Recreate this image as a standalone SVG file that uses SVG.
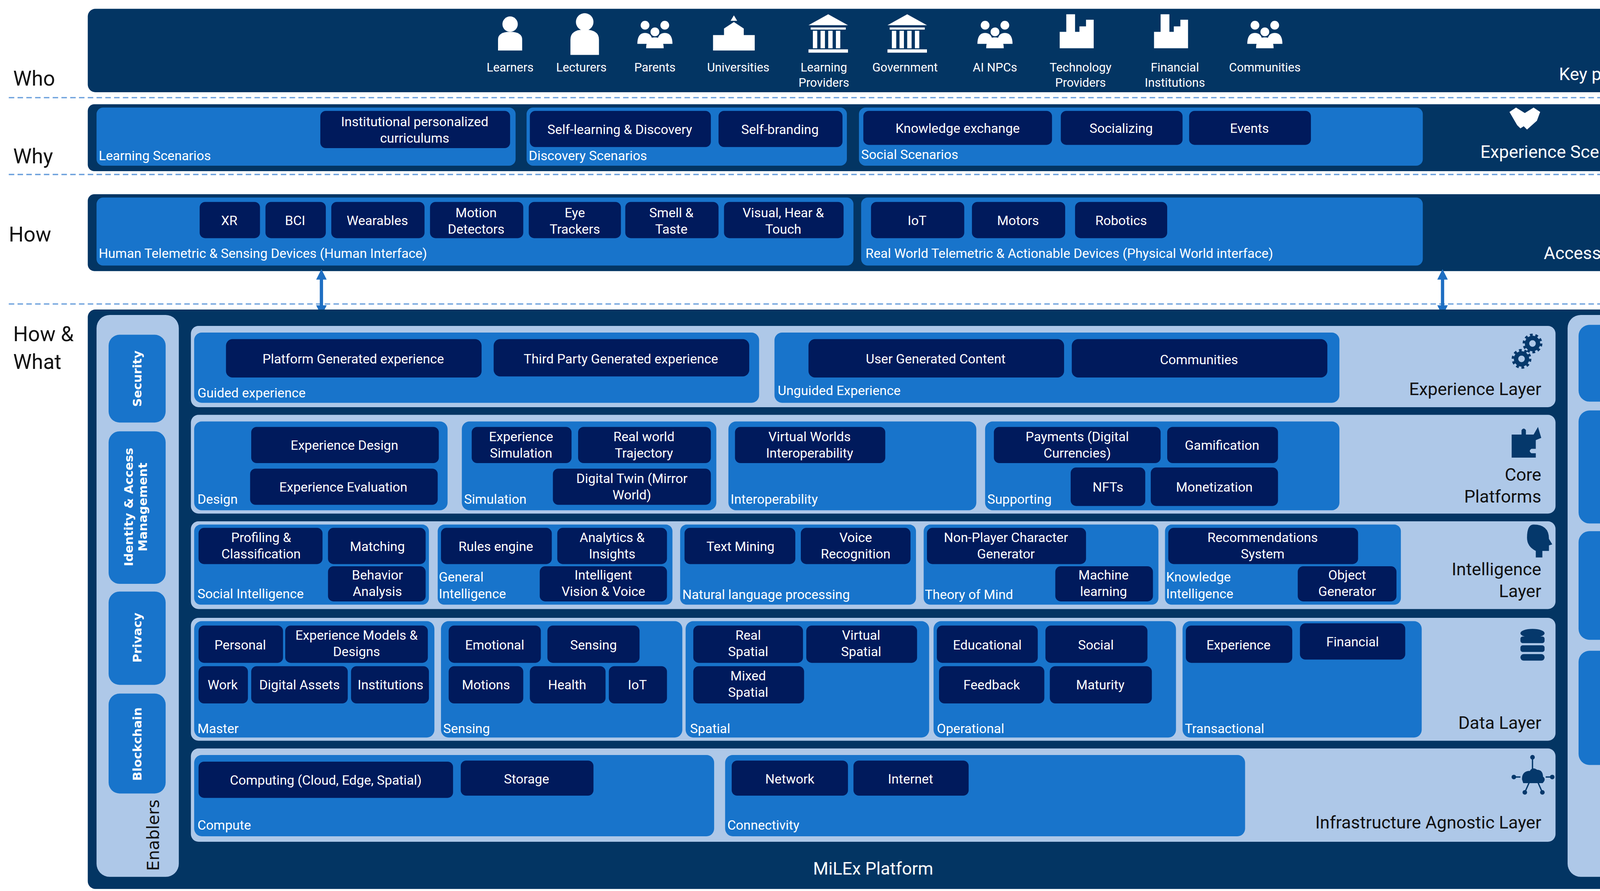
<svg xmlns="http://www.w3.org/2000/svg" width="4381" height="2280" viewBox="0 0 4381 2280">
<defs>
<style>
.band{fill:#033563}
.lay{fill:#aec8e8}
.pan{fill:#1874cb}
.box{fill:#001a5c}
.pill{fill:#1874cb}
text{font-family:Roboto,"Liberation Sans",Arial,sans-serif}
.t{fill:#fff;font-size:12px;text-anchor:middle}
.lab{fill:#fff;font-size:12px}
.dk{fill:#111;font-size:16px;text-anchor:end}
.wr{fill:#fff;font-size:16px;text-anchor:end}
.side{fill:#111;font-size:19px}
.ic{fill:#fff;font-size:11px;text-anchor:middle}
.rot{fill:#fff;font-family:"DejaVu Sans",Verdana,sans-serif;font-weight:bold;font-size:11px;text-anchor:middle}
.rotd{fill:#111;font-family:"DejaVu Sans",Verdana,sans-serif;font-size:15px;text-anchor:middle}
.dash{stroke:#6a9fdc;stroke-width:1.2;stroke-dasharray:5 3}
.gear{fill:none;stroke:#05386b}
</style>
<marker id="ah" viewBox="0 0 10 10" refX="5" refY="5" markerWidth="3.2" markerHeight="3.2" orient="auto-start-reverse"><path d="M0,0 L10,5 L0,10 z" fill="#1f6fc2"/></marker>
</defs>
<rect width="4381" height="2280" fill="#fff"/>
<g transform="scale(2.8083)">
<g id="sidelabels">
<text class="side" x="12" y="78">Who</text>
<text class="side" x="12" y="149">Why</text>
<text class="side" x="8" y="220">How</text>
<text class="side" x="12" y="311">How &amp;</text>
<text class="side" x="12" y="336">What</text>
</g>
<g id="dashes">
<line class="dash" x1="8" y1="89" x2="1556" y2="89"/>
<line class="dash" x1="8" y1="159" x2="1556" y2="159"/>
<line class="dash" x1="8" y1="277" x2="1556" y2="277"/>
</g>

<g id="who">
<rect class="band" x="80" y="8" width="1434" height="76" rx="7"/>
<g fill="#fff">
<circle cx="465" cy="22" r="7"/><path d="M454,46 v-10 q0,-7 11,-7 q11,0 11,7 v10z"/>
<circle cx="533" cy="20" r="8"/><path d="M520,50 v-14 q0,-9 13,-9 q13,0 13,9 v14z"/>
<circle cx="588" cy="23" r="4"/><circle cx="606" cy="23" r="4"/><circle cx="597" cy="29" r="4"/><path d="M581,40 q0,-10 7,-10 q7,0 7,10z M599,40 q0,-10 7,-10 q7,0 7,10z M589,44 q0,-10 8,-10 q8,0 8,10z"/>
<path d="M650,46 v-14 h10 v-6 l9,-6 l9,6 v6 h10 v14z"/><path d="M669,14 l-3,5 h6z"/>
<path d="M737,23 l18,-10 l18,10z M739,25 h32 v2 h-32z M741,28 h4 v16 h-4z M748,28 h4 v16 h-4z M755,28 h4 v16 h-4z M762,28 h4 v16 h-4z M737,45 h36 v3 h-36z"/>
<path d="M809,23 l18,-10 l18,10z M811,25 h32 v2 h-32z M813,28 h4 v16 h-4z M820,28 h4 v16 h-4z M827,28 h4 v16 h-4z M834,28 h4 v16 h-4z M809,45 h36 v3 h-36z"/>
<circle cx="898" cy="23" r="4"/><circle cx="916" cy="23" r="4"/><circle cx="907" cy="29" r="4"/><path d="M891,40 q0,-10 7,-10 q7,0 7,10z M909,40 q0,-10 7,-10 q7,0 7,10z M899,44 q0,-10 8,-10 q8,0 8,10z"/>
<path d="M966,44 v-15 h6 v-16 h8 v16 h4 v-5 h6 v-6 h7 v26z"/>
<path d="M1052,44 v-15 h6 v-16 h8 v16 h4 v-5 h6 v-6 h7 v26z"/>
<circle cx="1144" cy="23" r="4"/><circle cx="1162" cy="23" r="4"/><circle cx="1153" cy="29" r="4"/><path d="M1137,40 q0,-10 7,-10 q7,0 7,10z M1155,40 q0,-10 7,-10 q7,0 7,10z M1145,44 q0,-10 8,-10 q8,0 8,10z"/>
</g>
<text class="ic" x="465" y="65">Learners</text>
<text class="ic" x="530" y="65">Lecturers</text>
<text class="ic" x="597" y="65">Parents</text>
<text class="ic" x="673" y="65">Universities</text>
<text class="ic" x="751" y="65">Learning<tspan x="751" dy="14">Providers</tspan></text>
<text class="ic" x="825" y="65">Government</text>
<text class="ic" x="907" y="65">AI NPCs</text>
<text class="ic" x="985" y="65">Technology<tspan x="985" dy="14">Providers</tspan></text>
<text class="ic" x="1071" y="65">Financial<tspan x="1071" dy="14">Institutions</tspan></text>
<text class="ic" x="1153" y="65">Communities</text>
<text class="wr" x="1502" y="73">Key players</text>
</g>

<g id="why">
<rect class="band" x="80" y="95" width="1434" height="61" rx="6"/>
<rect class="pan" x="88" y="98" width="382" height="53" rx="6"/>
<rect class="box" x="292" y="101" width="173" height="34" rx="5"/>
<text class="t" x="378" y="115">Institutional personalized<tspan x="378" dy="15">curriculums</tspan></text>
<text class="lab" x="90" y="146">Learning Scenarios</text>
<rect class="pan" x="480" y="98" width="292" height="53" rx="6"/>
<rect class="box" x="483" y="101" width="165" height="33" rx="5"/>
<text class="t" x="565" y="122">Self-learning &amp; Discovery</text>
<rect class="box" x="655" y="101" width="113" height="33" rx="5"/>
<text class="t" x="711" y="122">Self-branding</text>
<text class="lab" x="482" y="146">Discovery Scenarios</text>
<rect class="pan" x="783" y="98" width="514" height="53" rx="6"/>
<rect class="box" x="787" y="101" width="172" height="31" rx="5"/>
<text class="t" x="873" y="121">Knowledge exchange</text>
<rect class="box" x="967" y="101" width="111" height="31" rx="5"/>
<text class="t" x="1022" y="121">Socializing</text>
<rect class="box" x="1084" y="101" width="111" height="31" rx="5"/>
<text class="t" x="1139" y="121">Events</text>
<text class="lab" x="785" y="145">Social Scenarios</text>
<path fill="#fff" d="M1376,102 l6,-4 l8,5 l8,-5 l6,4 l-3,8 l-9,8 l-3,-3 l-3,2 l-3,-3z"/>
<text class="wr" x="1502" y="144">Experience  Scenarios</text>
</g>

<g id="how">
<rect class="band" x="80" y="177" width="1434" height="70" rx="6"/>
<rect class="pan" x="88" y="180" width="690" height="62" rx="6"/>
<rect class="box" x="182" y="184" width="55" height="33" rx="5"/><text class="t" x="209" y="205">XR</text>
<rect class="box" x="242" y="184" width="55" height="33" rx="5"/><text class="t" x="269" y="205">BCI</text>
<rect class="box" x="302" y="184" width="85" height="33" rx="5"/><text class="t" x="344" y="205">Wearables</text>
<rect class="box" x="392" y="184" width="85" height="33" rx="5"/><text class="t" x="434" y="198">Motion<tspan x="434" dy="15">Detectors</tspan></text>
<rect class="box" x="482" y="184" width="84" height="33" rx="5"/><text class="t" x="524" y="198">Eye<tspan x="524" dy="15">Trackers</tspan></text>
<rect class="box" x="570" y="184" width="85" height="33" rx="5"/><text class="t" x="612" y="198">Smell &amp;<tspan x="612" dy="15">Taste</tspan></text>
<rect class="box" x="660" y="184" width="109" height="33" rx="5"/><text class="t" x="714" y="198">Visual, Hear &amp;<tspan x="714" dy="15">Touch</tspan></text>
<text class="lab" x="90" y="235">Human Telemetric  &amp; Sensing Devices (Human Interface)</text>
<rect class="pan" x="785" y="180" width="512" height="62" rx="6"/>
<rect class="box" x="794" y="184" width="85" height="33" rx="5"/><text class="t" x="836" y="205">IoT</text>
<rect class="box" x="886" y="184" width="85" height="33" rx="5"/><text class="t" x="928" y="205">Motors</text>
<rect class="box" x="980" y="184" width="84" height="33" rx="5"/><text class="t" x="1022" y="205">Robotics</text>
<text class="lab" x="789" y="235">Real World Telemetric &amp; Actionable Devices (Physical World interface)</text>
<path fill="#fff" d="M1480,181 q3,-2 5,0 v12 q6,-1 9,3 v11 l-3,6 h-10 l-5,-10 v-6 l4,2z"/>
<text class="wr" x="1502" y="236">Access Layer</text>
</g>

<g id="connectors">
<line x1="293" y1="250" x2="293" y2="283" stroke="#1f6fc2" stroke-width="3" marker-start="url(#ah)" marker-end="url(#ah)"/>
<line x1="1315" y1="250" x2="1315" y2="283" stroke="#1f6fc2" stroke-width="3" marker-start="url(#ah)" marker-end="url(#ah)"/>
</g>

<g id="platform">
<rect class="band" x="80" y="282" width="1434" height="528" rx="7"/>
<text fill="#fff" font-size="16" text-anchor="middle" x="796" y="797">MiLEx Platform</text>
</g>

<g id="enablers">
<rect class="lay" x="88" y="287" width="75" height="512" rx="12"/>
<rect class="pill" x="99" y="305" width="52" height="80" rx="10"/>
<text class="rot" transform="translate(129,345) rotate(-90)">Security</text>
<rect class="pill" x="99" y="393" width="52" height="139" rx="10"/>
<text class="rot" transform="translate(121,462) rotate(-90)">Identity &amp; Access<tspan x="0" dy="13">Management</tspan></text>
<rect class="pill" x="99" y="539" width="52" height="85" rx="10"/>
<text class="rot" transform="translate(129,581) rotate(-90)">Privacy</text>
<rect class="pill" x="99" y="632" width="52" height="91" rx="10"/>
<text class="rot" transform="translate(129,678) rotate(-90)">Blockchain</text>
<text class="rotd" transform="translate(145,761) rotate(-90)">Enablers</text>
</g>

<g id="governance">
<rect class="lay" x="1429" y="287" width="75" height="512" rx="12"/>
<rect class="pill" x="1439" y="296" width="52" height="70" rx="10"/>
<text class="rot" transform="translate(1469,331) rotate(-90)">Inclusivity</text>
<rect class="pill" x="1439" y="374" width="52" height="103" rx="10"/>
<text class="rot" transform="translate(1469,425) rotate(-90)">Standardization</text>
<rect class="pill" x="1439" y="484" width="52" height="99" rx="10"/>
<text class="rot" transform="translate(1469,533) rotate(-90)">Interoperability</text>
<rect class="pill" x="1439" y="593" width="52" height="104" rx="10"/>
<text class="rot" transform="translate(1469,645) rotate(-90)">Decentralization</text>
<text class="rotd" transform="translate(1486,750) rotate(-90)">Governance</text>
</g>

<g id="experience-layer">
<rect class="lay" x="174" y="297" width="1244" height="74" rx="7"/>
<rect class="pan" x="177" y="303" width="515" height="64" rx="7"/>
<rect class="box" x="206" y="309" width="233" height="35" rx="6"/><text class="t" x="322" y="331">Platform Generated experience</text>
<rect class="box" x="450" y="309" width="233" height="34" rx="6"/><text class="t" x="566" y="331">Third Party Generated experience</text>
<text class="lab" x="180" y="362">Guided experience</text>
<rect class="pan" x="706" y="303" width="515" height="64" rx="7"/>
<rect class="box" x="737" y="309" width="233" height="35" rx="6"/><text class="t" x="853" y="331">User  Generated Content</text>
<rect class="box" x="977" y="309" width="233" height="35" rx="6"/><text class="t" x="1093" y="332">Communities</text>
<text class="lab" x="709" y="360">Unguided Experience</text>
<circle class="gear" cx="1397" cy="313" r="5" stroke-width="4"/><circle class="gear" cx="1397" cy="313" r="7.5" stroke-width="3" stroke-dasharray="2.4 2.3"/>
<circle class="gear" cx="1387" cy="327" r="5" stroke-width="4"/><circle class="gear" cx="1387" cy="327" r="7.5" stroke-width="3" stroke-dasharray="2.4 2.3"/>
<text class="dk" x="1405" y="360">Experience Layer</text>
</g>

<g id="core-platforms">
<rect class="lay" x="174" y="378" width="1244" height="90" rx="7"/>
<rect class="pan" x="177" y="384" width="231" height="81" rx="7"/>
<rect class="box" x="229" y="389" width="171" height="33" rx="5"/><text class="t" x="314" y="410">Experience Design</text>
<rect class="box" x="228" y="427" width="171" height="33" rx="5"/><text class="t" x="313" y="448">Experience Evaluation</text>
<text class="lab" x="180" y="459">Design</text>
<rect class="pan" x="421" y="384" width="232" height="81" rx="7"/>
<rect class="box" x="430" y="389" width="91" height="33" rx="5"/><text class="t" x="475" y="402">Experience<tspan x="475" dy="15">Simulation</tspan></text>
<rect class="box" x="527" y="389" width="121" height="33" rx="5"/><text class="t" x="587" y="402">Real world<tspan x="587" dy="15">Trajectory</tspan></text>
<rect class="box" x="504" y="427" width="144" height="33" rx="5"/><text class="t" x="576" y="440">Digital Twin (Mirror<tspan x="576" dy="15">World)</tspan></text>
<text class="lab" x="423" y="459">Simulation</text>
<rect class="pan" x="664" y="384" width="226" height="81" rx="7"/>
<rect class="box" x="670" y="389" width="137" height="33" rx="5"/><text class="t" x="738" y="402">Virtual Worlds<tspan x="738" dy="15">Interoperability</tspan></text>
<text class="lab" x="666" y="459">Interoperability</text>
<rect class="pan" x="898" y="384" width="323" height="81" rx="7"/>
<rect class="box" x="906" y="389" width="152" height="33" rx="5"/><text class="t" x="982" y="402">Payments (Digital<tspan x="982" dy="15">Currencies)</tspan></text>
<rect class="box" x="1064" y="389" width="101" height="33" rx="5"/><text class="t" x="1114" y="410">Gamification</text>
<rect class="box" x="976" y="426" width="68" height="35" rx="5"/><text class="t" x="1010" y="448">NFTs</text>
<rect class="box" x="1049" y="426" width="116" height="35" rx="5"/><text class="t" x="1107" y="448">Monetization</text>
<text class="lab" x="900" y="459">Supporting</text>
<path fill="#05386b" d="M1378,396 h9 v-4 q2,-3 4,0 v4 h7 l4,-7 l3,10 l-5,2 v8 h-4 q-3,2 0,4 h4 v4 h-22z"/>
<text class="dk" x="1405" y="438">Core</text>
<text class="dk" x="1405" y="458">Platforms</text>
</g>

<g id="intelligence-layer">
<rect class="lay" x="174" y="475" width="1244" height="80" rx="7"/>
<rect class="pan" x="177" y="478" width="214" height="73" rx="6"/>
<rect class="box" x="181" y="481" width="113" height="33" rx="5"/><text class="t" x="238" y="494">Profiling &amp;<tspan x="238" dy="15">Classification</tspan></text>
<rect class="box" x="299" y="481" width="89" height="33" rx="5"/><text class="t" x="344" y="502">Matching</text>
<rect class="box" x="299" y="516" width="89" height="32" rx="5"/><text class="t" x="344" y="528">Behavior<tspan x="344" dy="15">Analysis</tspan></text>
<text class="lab" x="180" y="545">Social Intelligence</text>
<rect class="pan" x="399" y="478" width="214" height="73" rx="6"/>
<rect class="box" x="402" y="481" width="101" height="33" rx="5"/><text class="t" x="452" y="502">Rules engine</text>
<rect class="box" x="508" y="481" width="100" height="33" rx="5"/><text class="t" x="558" y="494">Analytics &amp;<tspan x="558" dy="15">Insights</tspan></text>
<rect class="box" x="492" y="516" width="116" height="32" rx="5"/><text class="t" x="550" y="528">Intelligent<tspan x="550" dy="15">Vision &amp; Voice</tspan></text>
<text class="lab" x="400" y="530">General<tspan x="400" dy="15">Intelligence</tspan></text>
<rect class="pan" x="620" y="478" width="215" height="73" rx="6"/>
<rect class="box" x="624" y="481" width="101" height="33" rx="5"/><text class="t" x="675" y="502">Text Mining</text>
<rect class="box" x="730" y="481" width="100" height="33" rx="5"/><text class="t" x="780" y="494">Voice<tspan x="780" dy="15">Recognition</tspan></text>
<text class="lab" x="622" y="546">Natural language processing</text>
<rect class="pan" x="842" y="478" width="214" height="73" rx="6"/>
<rect class="box" x="845" y="481" width="145" height="33" rx="5"/><text class="t" x="917" y="494">Non-Player Character<tspan x="917" dy="15">Generator</tspan></text>
<rect class="box" x="962" y="516" width="89" height="32" rx="5"/><text class="t" x="1006" y="528">Machine<tspan x="1006" dy="15">learning</tspan></text>
<text class="lab" x="843" y="546">Theory of Mind</text>
<rect class="pan" x="1062" y="478" width="215" height="73" rx="6"/>
<rect class="box" x="1065" y="481" width="173" height="33" rx="5"/><text class="t" x="1151" y="494">Recommendations<tspan x="1151" dy="15">System</tspan></text>
<rect class="box" x="1183" y="516" width="90" height="32" rx="5"/><text class="t" x="1228" y="528">Object<tspan x="1228" dy="15">Generator</tspan></text>
<text class="lab" x="1063" y="530">Knowledge<tspan x="1063" dy="15">Intelligence</tspan></text>
<path fill="#05386b" d="M1398,478 q14,0 14,13 l3,5 l-3,1 v5 h-6 v6 h-6 v-6 q-8,-4 -8,-12 q0,-12 6,-12z"/>
<text class="dk" x="1405" y="524">Intelligence</text>
<text class="dk" x="1405" y="544">Layer</text>
</g>

<g id="data-layer">
<rect class="lay" x="174" y="563" width="1244" height="112" rx="7"/>
<rect class="pan" x="177" y="566" width="219" height="106" rx="7"/>
<rect class="box" x="181" y="570" width="77" height="34" rx="5"/><text class="t" x="219" y="592">Personal</text>
<rect class="box" x="260" y="570" width="130" height="34" rx="5"/><text class="t" x="325" y="583">Experience Models &amp;<tspan x="325" dy="15">Designs</tspan></text>
<rect class="box" x="181" y="607" width="45" height="34" rx="5"/><text class="t" x="203" y="628">Work</text>
<rect class="box" x="229" y="607" width="88" height="34" rx="5"/><text class="t" x="273" y="628">Digital Assets</text>
<rect class="box" x="320" y="607" width="71" height="34" rx="5"/><text class="t" x="356" y="628">Institutions</text>
<text class="lab" x="180" y="668">Master</text>
<rect class="pan" x="402" y="566" width="220" height="106" rx="7"/>
<rect class="box" x="409" y="570" width="84" height="34" rx="5"/><text class="t" x="451" y="592">Emotional</text>
<rect class="box" x="499" y="570" width="84" height="34" rx="5"/><text class="t" x="541" y="592">Sensing</text>
<rect class="box" x="409" y="607" width="68" height="34" rx="5"/><text class="t" x="443" y="628">Motions</text>
<rect class="box" x="483" y="607" width="69" height="34" rx="5"/><text class="t" x="517" y="628">Health</text>
<rect class="box" x="555" y="607" width="53" height="34" rx="5"/><text class="t" x="581" y="628">IoT</text>
<text class="lab" x="404" y="668">Sensing</text>
<rect class="pan" x="625" y="566" width="222" height="106" rx="7"/>
<rect class="box" x="632" y="570" width="100" height="34" rx="5"/><text class="t" x="682" y="583">Real<tspan x="682" dy="15">Spatial</tspan></text>
<rect class="box" x="735" y="570" width="101" height="34" rx="5"/><text class="t" x="785" y="583">Virtual<tspan x="785" dy="15">Spatial</tspan></text>
<rect class="box" x="632" y="607" width="101" height="34" rx="5"/><text class="t" x="682" y="620">Mixed<tspan x="682" dy="15">Spatial</tspan></text>
<text class="lab" x="629" y="668">Spatial</text>
<rect class="pan" x="851" y="566" width="221" height="106" rx="7"/>
<rect class="box" x="854" y="570" width="92" height="34" rx="5"/><text class="t" x="900" y="592">Educational</text>
<rect class="box" x="953" y="570" width="93" height="34" rx="5"/><text class="t" x="999" y="592">Social</text>
<rect class="box" x="856" y="607" width="96" height="34" rx="5"/><text class="t" x="904" y="628">Feedback</text>
<rect class="box" x="957" y="607" width="93" height="34" rx="5"/><text class="t" x="1003" y="628">Maturity</text>
<text class="lab" x="854" y="668">Operational</text>
<rect class="pan" x="1078" y="566" width="218" height="106" rx="7"/>
<rect class="box" x="1081" y="570" width="97" height="34" rx="5"/><text class="t" x="1129" y="592">Experience</text>
<rect class="box" x="1185" y="568" width="96" height="33" rx="5"/><text class="t" x="1233" y="589">Financial</text>
<text class="lab" x="1080" y="668">Transactional</text>
<g fill="#05386b"><ellipse cx="1397" cy="577" rx="11" ry="4"/><rect x="1386" y="580" width="22" height="6" rx="2"/><rect x="1386" y="588" width="22" height="6" rx="2"/><rect x="1386" y="596" width="22" height="6" rx="3"/></g>
<text class="dk" x="1405" y="664">Data Layer</text>
</g>

<g id="infrastructure-layer">
<rect class="lay" x="174" y="682" width="1244" height="85" rx="7"/>
<rect class="pan" x="177" y="688" width="474" height="74" rx="7"/>
<rect class="box" x="181" y="694" width="232" height="33" rx="5"/><text class="t" x="297" y="715">Computing (Cloud, Edge, Spatial)</text>
<rect class="box" x="420" y="693" width="121" height="32" rx="5"/><text class="t" x="480" y="714">Storage</text>
<text class="lab" x="180" y="756">Compute</text>
<rect class="pan" x="661" y="688" width="474" height="74" rx="7"/>
<rect class="box" x="667" y="693" width="106" height="32" rx="5"/><text class="t" x="720" y="714">Network</text>
<rect class="box" x="778" y="693" width="105" height="32" rx="5"/><text class="t" x="830" y="714">Internet</text>
<text class="lab" x="663" y="756">Connectivity</text>
<g fill="#05386b" stroke="#05386b" stroke-width="1.2"><path d="M1388,710 q0,-7 7,-7 q2,-4 6,-1 q5,0 5,6 q3,2 0,5 h-17z"/><line x1="1397" y1="702" x2="1397" y2="690" fill="none"/><line x1="1386" y1="708" x2="1380" y2="708"/><line x1="1409" y1="708" x2="1415" y2="708"/><line x1="1394" y1="713" x2="1390" y2="722"/><line x1="1402" y1="713" x2="1406" y2="722"/><circle cx="1397" cy="690" r="1.5"/><circle cx="1380" cy="708" r="1.5"/><circle cx="1415" cy="708" r="1.5"/><circle cx="1390" cy="722" r="1.5"/><circle cx="1406" cy="722" r="1.5"/></g>
<text class="dk" x="1405" y="755">Infrastructure Agnostic Layer</text>
</g>
</g>
</svg>
